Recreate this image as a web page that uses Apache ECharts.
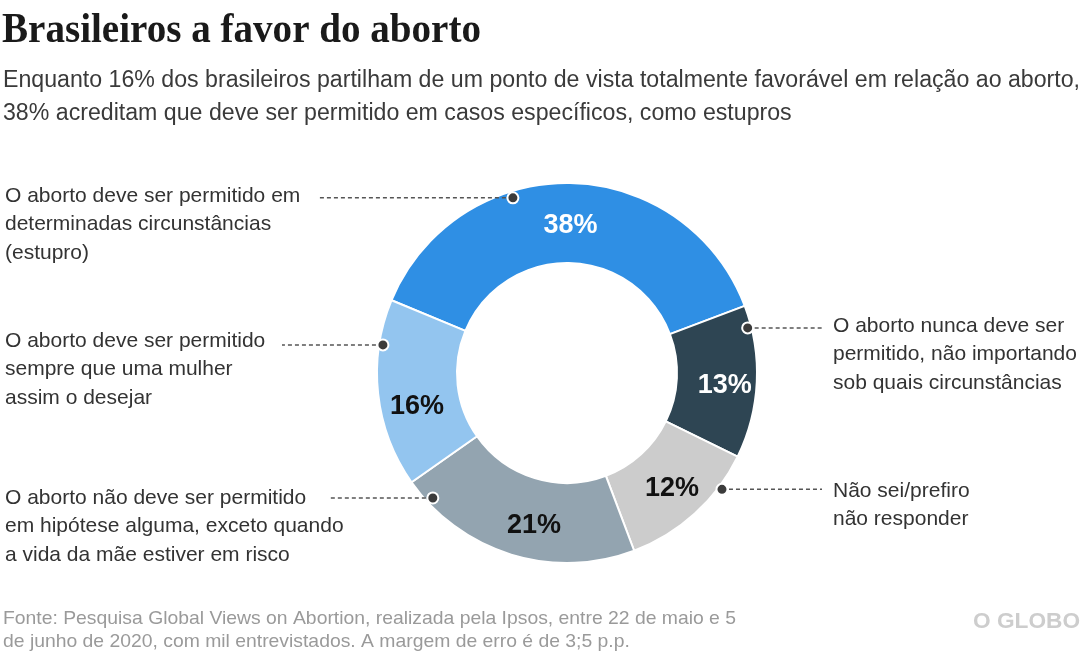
<!DOCTYPE html>
<html><head><meta charset="utf-8">
<script src="https://cdn.jsdelivr.net/npm/echarts@6/dist/echarts.min.js"></script>
<style>html,body{margin:0;padding:0;background:#fff}#c{width:1086px;height:652px}</style>
</head><body><div id="c"></div>
<script>
// ---- data ----
const categories = [
  'O aborto deve ser permitido em\ndeterminadas circunstâncias\n(estupro)',
  'O aborto nunca deve ser\npermitido, não importando\nsob quais circunstâncias',
  'Não sei/prefiro\nnão responder',
  'O aborto não deve ser permitido\nem hipótese alguma, exceto quando\na vida da mãe estiver em risco',
  'O aborto deve ser permitido\nsempre que uma mulher\nassim o desejar'
];
const values = [38, 13, 12, 21, 16];
const valueLabels = ['38%', '13%', '12%', '21%', '16%'];
const titleText = 'Brasileiros a favor do aborto';
const subtitleText = 'Enquanto 16% dos brasileiros partilham de um ponto de vista totalmente favorável em relação ao aborto,\n38% acreditam que deve ser permitido em casos específicos, como estupros';
const sourceText = 'Fonte: Pesquisa Global Views on Abortion, realizada pela Ipsos, entre 22 de maio e 5\nde junho de 2020, com mil entrevistados. A margem de erro é de 3;5 p.p.';
const brandText = 'O GLOBO';

// ---- style / layout ----
const sliceColors = ['#2f8fe4', '#2e4553', '#cccccc', '#93a4b0', '#93c5ef'];
const valueColors = ['#ffffff', '#ffffff', '#111111', '#111111', '#111111'];
const valueOffsets = [[1, 6], [5, 5], [2, 2], [12, 6], [2, 17]];
const CX = 567, CY = 373, R0 = 110, R1 = 190, START = 157.5;
// callout placement: fraction along slice, radius factor, side, text anchor y, line end x
const callouts = [
  {frac: 0.368, rf: 0.965, side: 'left',  ty: 196, lx: 318},
  {frac: 0.143, rf: 0.98,  side: 'right', ty: 326, lx: 822},
  {frac: 0.25,  rf: 1.02,  side: 'right', ty: 491, lx: 822},
  {frac: 0.896, rf: 0.965, side: 'left',  ty: 498, lx: 330},
  {frac: 0.76,  rf: 0.98,  side: 'left',  ty: 341, lx: 282}
];

const chart = echarts.init(document.getElementById('c'), null, {renderer: 'canvas'});

function measure(text, font) {
  const c = document.createElement('canvas').getContext('2d');
  c.font = font;
  return c.measureText(text).width;
}

const titleFont = 'bold 42px "Liberation Serif", serif';
const titleScale = 479 / measure(titleText, titleFont);
const subFont = '23px "Liberation Sans", Arial, sans-serif';
const subScale = 1077 / measure(subtitleText.split('\n')[0], subFont);
const labelFont = '21px "Liberation Sans", Arial, sans-serif';
const srcFont = '19px "Liberation Sans", Arial, sans-serif';
const srcScale = 733 / measure(sourceText.split('\n')[0], srcFont);
const brandFont = 'bold 22px "Liberation Sans", Arial, sans-serif';
const brandScale = 107 / measure(brandText, brandFont);

const total = values.reduce((a, b) => a + b, 0);
const graphics = [];
graphics.push({type: 'text', x: 2, y: 10, scaleX: titleScale,
  style: {text: titleText, font: titleFont, fill: '#1a1a1a', verticalAlign: 'top'}});
graphics.push({type: 'text', x: 3, y: 64, scaleX: subScale,
  style: {text: subtitleText, font: subFont, fill: '#3a3a3a', lineHeight: 33, verticalAlign: 'top'}});
graphics.push({type: 'text', x: 3, y: 607, scaleX: srcScale,
  style: {text: sourceText, font: srcFont, fill: '#9a9a9a', lineHeight: 23, verticalAlign: 'top'}});
graphics.push({type: 'text', x: 973, y: 611, scaleX: brandScale,
  style: {text: brandText, font: brandFont, fill: '#cdcdcd', verticalAlign: 'top'}});

let cum = 0;
values.forEach((v, i) => {
  const c = callouts[i];
  const ang = (START - (cum + c.frac * v) / total * 360) * Math.PI / 180;
  cum += v;
  const px = CX + R1 * c.rf * Math.cos(ang);
  const py = CY - R1 * c.rf * Math.sin(ang);
  graphics.push({type: 'line', z: 10,
    shape: {x1: px, y1: py, x2: c.lx, y2: py},
    style: {stroke: '#555', lineWidth: 1.5, lineDash: [4, 3]}});
  graphics.push({type: 'circle', z: 11,
    shape: {cx: px, cy: py, r: 5.5},
    style: {fill: '#3b3b3b', stroke: '#fff', lineWidth: 2}});
  graphics.push({type: 'text', z: 10,
    x: c.side === 'left' ? 5 : 833, y: c.ty - 14.25,
    style: {text: categories[i], font: labelFont,
      fill: '#333', lineHeight: 28.5, verticalAlign: 'top'}});
});

chart.setOption({
  animation: false,
  backgroundColor: '#fff',
  graphic: graphics,
  series: [{
    type: 'pie',
    center: [CX, CY],
    radius: [R0, R1],
    startAngle: START,
    clockwise: true,
    silent: true,
    itemStyle: {borderColor: '#fff', borderWidth: 2},
    label: {
      show: true, position: 'inside',
      formatter: p => valueLabels[p.dataIndex],
      fontFamily: '"Liberation Sans", Arial, sans-serif',
      fontWeight: 'bold', fontSize: 27
    },
    labelLine: {show: false},
    data: values.map((v, i) => ({
      value: v, name: categories[i],
      itemStyle: {color: sliceColors[i]},
      label: {color: valueColors[i], offset: valueOffsets[i]}
    }))
  }]
});
</script></body></html>
